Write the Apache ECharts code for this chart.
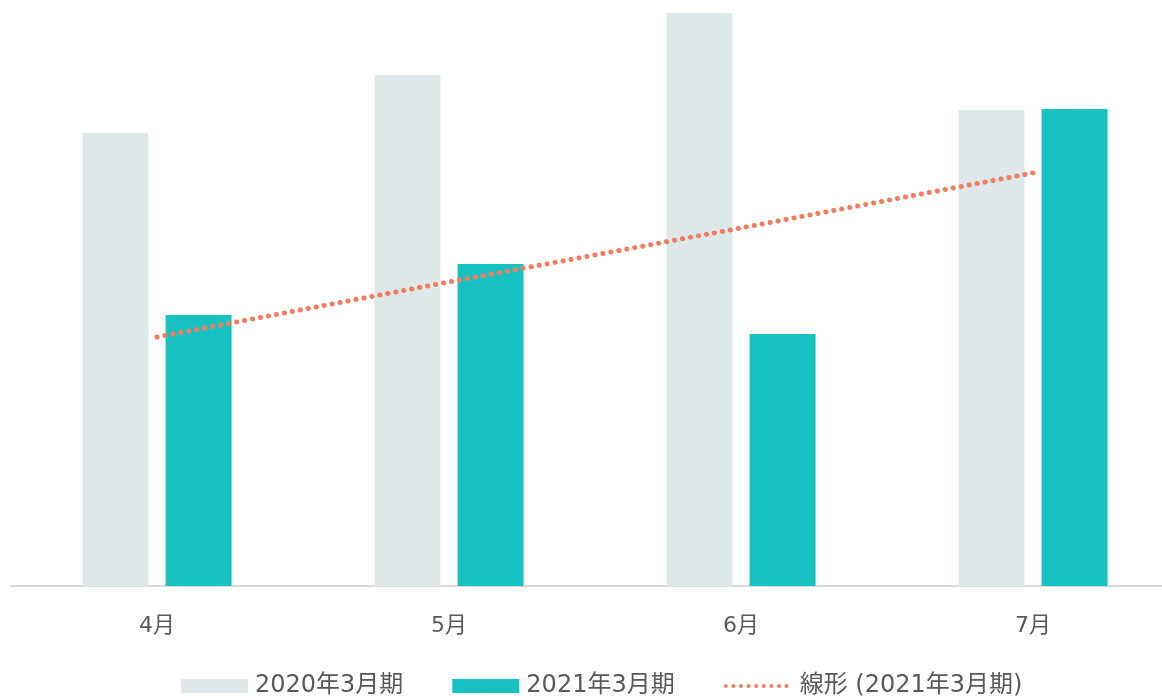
<!DOCTYPE html>
<html>
<head>
<meta charset="utf-8">
<script src="https://cdn.jsdelivr.net/npm/echarts@6/dist/echarts.min.js"></script>
<style>
    html, body {margin: 0; padding: 0; background: #fff;}
    #chart {width: 1162px; height: 696px;}
</style>
</head>
<body>
<div id="chart"></div>
<script>
// 月
const months = ['4月', '5月', '6月', '7月'];
// 2020年3月期
const values2020 = [453, 511, 573, 476];
// 2021年3月期
const values2021 = [271, 322, 252, 477];
// 線形 (2021年3月期)
const trend2021 = [249, 304, 358, 413];

const seriesNames = ['2020年3月期', '2021年3月期', '線形 (2021年3月期)'];

const font = '"DejaVu Sans", "Noto Sans CJK JP", sans-serif';
const chart = echarts.init(document.getElementById('chart'));

chart.setOption({
    animation: false,
    textStyle: {fontFamily: font},
    grid: {left: 11, width: 1168, top: 0, bottom: 110, containLabel: false, outerBoundsMode: 'none'},
    legend: {
        bottom: -7,
        left: 176,
        itemWidth: 67,
        itemHeight: 14,
        itemGap: 49,
        textStyle: {fontSize: 24, color: '#595959', fontFamily: font, padding: [0, 0, 0, 2]},
        data: [
            {name: seriesNames[0], icon: 'rect'},
            {name: seriesNames[1], icon: 'rect'},
            {
                name: seriesNames[2],
                itemStyle: {opacity: 0},
                lineStyle: {color: '#f47c5c', width: 4, type: [0.1, 7.5], cap: 'round'}
            }
        ]
    },
    xAxis: {
        type: 'category',
        data: months,
        axisLine: {lineStyle: {color: '#d9d9d9', width: 2}},
        axisTick: {show: false},
        axisLabel: {fontSize: 22, color: '#595959', margin: 29, fontFamily: font}
    },
    yAxis: {
        type: 'value',
        min: 0,
        max: 586,
        show: false,
        splitLine: {show: false}
    },
    series: [
        {
            name: seriesNames[0],
            type: 'bar',
            data: values2020,
            barWidth: 66,
            barGap: '26%',
            itemStyle: {color: '#dfe8e8'}
        },
        {
            name: seriesNames[1],
            type: 'bar',
            data: values2021,
            barWidth: 66,
            itemStyle: {color: '#19c2c2'}
        },
        {
            name: seriesNames[2],
            type: 'line',
            data: trend2021,
            symbol: 'none',
            z: 5,
            lineStyle: {color: '#f47c5c', width: 5, type: [0.1, 8], cap: 'round'},
            itemStyle: {color: '#f47c5c'}
        }
    ]
});
</script>
</body>
</html>
